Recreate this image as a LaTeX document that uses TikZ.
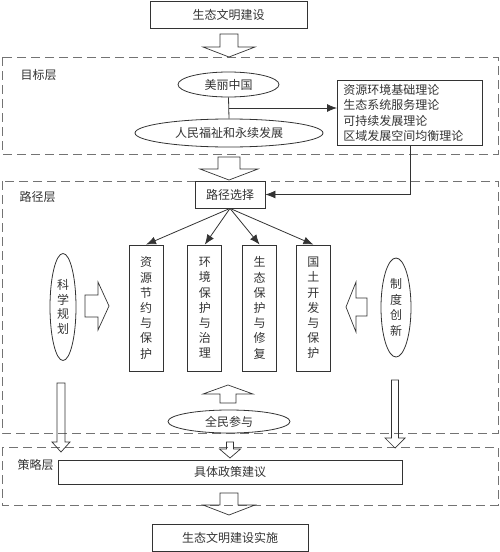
\documentclass[tikz,border=0pt]{standalone}
\usepackage{fontspec}
\setmainfont{Noto Sans CJK SC}
\usepackage{tikz}
\usetikzlibrary{calc}
\usetikzlibrary{arrows.meta,shapes.geometric}
\usetikzlibrary{positioning}
\definecolor{ink}{rgb}{0.2,0.2,0.2}
\definecolor{dashgray}{rgb}{0.45,0.45,0.45}
\newcommand{\fatarrow}[6]{% tail, angle, length, head length, shaft half, head half
  \draw[fat,shift={#1},rotate=#2] (0,-#5) -- ({#3-#4},-#5) -- ({#3-#4},-#6) -- (#3,0)
    -- ({#3-#4},#6) -- ({#3-#4},#5) -- (0,#5) -- cycle;}

\begin{document}
\begin{tikzpicture}[x=1pt,y=-1pt,line width=0.8pt,color=ink,
    txt/.style={text=ink,font=\fontsize{12}{15.2}\selectfont},
    box/.style={draw=ink,txt,inner sep=0pt},
    oval/.style={ellipse,draw=ink,txt,inner sep=0pt},
    vbox/.style={box,minimum width=34pt,minimum height=126pt,text width=12pt,align=center},
    layer/.style={draw=dashgray,dash pattern=on 9pt off 5pt},
    fat/.style={draw=ink,line width=0.7pt,line join=miter},
    con/.style={draw=ink,-{Latex[length=10pt,width=8pt]}}]
  \useasboundingbox (0,0) rectangle (500,552);

  % layers
  \draw[layer] (2,57) rectangle (498,154);
  \draw[layer] (2,181) rectangle (498,433);
  \draw[layer] (2,447) rectangle (498,505);
  \node[txt,anchor=west] (goal) at (17,75) {目标层};
  \node[txt,anchor=west] (path) at (16,197) {路径层};
  \node[txt,anchor=west] (policy) at (14,465) {策略层};

  % goal layer
  \node[box,minimum width=157pt,minimum height=27pt] (start) at (228.5,14.5) {生态文明建设};
  \fatarrow{(229,34)}{-90}{23}{10}{9}{26}
  \node[oval,minimum width=101pt,minimum height=25pt] (beauty) at (228.5,84.5) {美丽中国};
  \node[oval,minimum width=188pt,minimum height=28pt] (people) at (229,133) {人民福祉和永续发展};
  \node[box,anchor=north west,minimum width=145pt,minimum height=65pt,
    text width=133pt,inner xsep=6pt,align=left] (theory) at (337,80)
    {资源环境基础理论\\生态系统服务理论\\可持续发展理论\\区域发展空间均衡理论};
  \draw (beauty.south) -- (people.north);
  \coordinate (mid) at ($(beauty.south)!0.5!(people.north)$);
  \draw[con] (mid) -- (mid -| theory.west);
  \fatarrow{(229,157)}{-90}{23}{11}{11}{29}

  % path layer
  \node[box,minimum width=70pt,minimum height=27pt] (select) at (230,194.5) {路径选择};
  \draw[con] (theory.south) |- (select.east);
  \node[vbox] (res) at (146,308) {资\\源\\节\\约\\与\\保\\护};
  \node[vbox,right=24pt of res] (env) {环\\境\\保\\护\\与\\治\\理};
  \node[vbox,right=20pt of env] (eco) {生\\态\\保\\护\\与\\修\\复};
  \node[vbox,right=19pt of eco] (land) {国\\土\\开\\发\\与\\保\\护};
  \foreach \b in {res,env,eco,land}
    \draw[con] (select.south) -- (\b.north);
  \node[oval,minimum width=26pt,minimum height=107pt,text width=12pt,align=center,
    font=\fontsize{12}{14.5}\selectfont] (plan) at (63,307) {科\\学\\规\\划};
  \node[oval,minimum width=30pt,minimum height=99pt,text width=12pt,align=center,
    font=\fontsize{12}{15.5}\selectfont] (system) at (396,307.5) {制\\度\\创\\新};
  \fatarrow{(85,306)}{0}{24}{11}{11}{24}
  \fatarrow{(367,307)}{180}{21}{10}{9}{25}
  \node[oval,minimum width=122pt,minimum height=23pt] (public) at (229,421.5) {全民参与};
  \fatarrow{(228,403)}{90}{18}{9}{8}{25}

  % policy layer
  \fatarrow{(61,383)}{-90}{69}{10}{4}{9}
  \fatarrow{(395,380)}{-90}{68}{10}{3.5}{10}
  \fatarrow{(230,442)}{-90}{16}{9}{3.5}{10.5}
  \node[box,minimum width=344pt,minimum height=24pt] (advice) at (230,472) {具体政策建议};
  \fatarrow{(229,493)}{-90}{22}{10}{9}{26}
  \node[box,minimum width=156pt,minimum height=27pt] (impl) at (230,538) {生态文明建设实施};
\end{tikzpicture}
\end{document}
